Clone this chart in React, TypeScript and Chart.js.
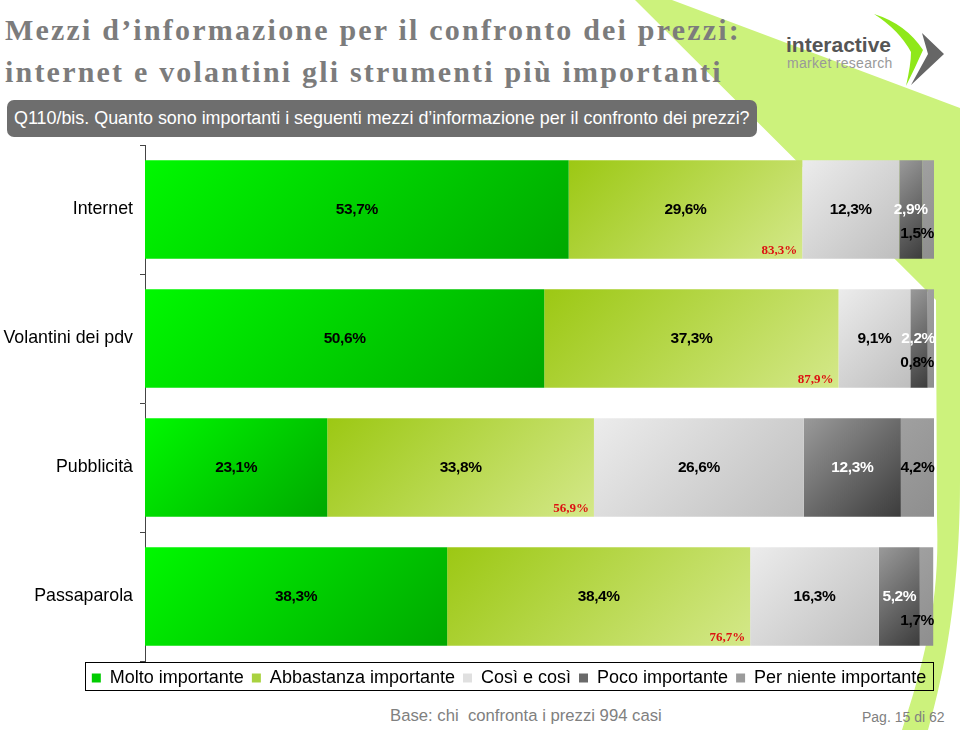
import React, { useEffect, useRef } from 'react';
import { Chart, registerables } from 'chart.js';

Chart.register(...registerables);

const categories = ['Internet', 'Volantini dei pdv', 'Pubblicità', 'Passaparola'];
const seriesNames = ['Molto importante', 'Abbastanza importante', 'Così e così', 'Poco importante', 'Per niente importante'];
const molto = [53.7, 50.6, 23.1, 38.3];
const abbastanza = [29.6, 37.3, 33.8, 38.4];
const cosi = [12.3, 9.1, 26.6, 16.3];
const poco = [2.9, 2.2, 12.3, 5.2];
const perNiente = [1.5, 0.8, 4.2, 1.7];
const topTwoBox = [83.3, 87.9, 56.9, 76.7];

const series = [molto, abbastanza, cosi, poco, perNiente];
const solidColors = ['#00cc00', '#a9d23f', '#e0e0e0', '#6a6a6a', '#9b9b9b'];
const gradientStops = [
  ['#00f800', '#00a800'],
  ['#9cc813', '#d4e889'],
  ['#ececec', '#bebebe'],
  ['#9a9a9a', '#3c3c3c'],
  ['#a0a0a0', '#8e8e8e'],
];
const BAR_PCT = 0.763;

const fmt = (v: number) => v.toFixed(1).replace('.', ',') + '%';

function makeFill(si: number) {
  return (c: any) => {
    const chart = c.chart;
    const area = chart.chartArea;
    if (c.type !== 'data' || !area || !chart.scales.x || !chart.scales.y) return solidColors[si];
    const xs = chart.scales.x;
    const ys = chart.scales.y;
    let start = 0;
    for (let k = 0; k < si; k++) start += series[k][c.dataIndex];
    const end = start + series[si][c.dataIndex];
    const x0 = xs.getPixelForValue(start);
    const x1 = xs.getPixelForValue(end);
    const yc = ys.getPixelForValue(c.dataIndex);
    const band = Math.abs(ys.getPixelForValue(1) - ys.getPixelForValue(0));
    const h = band * BAR_PCT;
    const top = yc - h / 2;
    const t = ((x1 - x0) + h) / 2;
    const g = chart.ctx.createLinearGradient(x0, top, x0 + t, top + t);
    g.addColorStop(0, gradientStops[si][0]);
    g.addColorStop(1, gradientStops[si][1]);
    return g;
  };
}

const segLabels = {
  id: 'segLabels',
  afterDatasetsDraw(chart: any) {
    const ctx = chart.ctx;
    const area = chart.chartArea;
    ctx.save();
    ctx.textBaseline = 'middle';
    ctx.textAlign = 'center';
    try { (ctx as any).letterSpacing = '-0.4px'; } catch (e) { /* ignore */ }
    chart.data.datasets.forEach((ds: any, i: number) => {
      const meta = chart.getDatasetMeta(i);
      meta.data.forEach((bar: any, j: number) => {
        const p = bar.getProps(['x', 'y', 'base', 'height'], true);
        const v = ds.data[j];
        const txt = fmt(v);
        ctx.font = 'bold 15.5px "Liberation Sans", Arial, sans-serif';
        ctx.fillStyle = i === 3 ? '#ffffff' : '#000000';
        const w = ctx.measureText(txt).width;
        const l = Math.min(p.x, p.base);
        const r = Math.max(p.x, p.base);
        let x = (l + r) / 2;
        let y = p.y;
        if (i === 4 && v < 2) {
          x = area.right - w / 2;
          y = p.y + 24;
        } else if (x + w / 2 > area.right + 1) {
          x = area.right + 1 - w / 2;
        }
        ctx.fillText(txt, x, y);
      });
    });
    try { (ctx as any).letterSpacing = '0px'; } catch (e) { /* ignore */ }
    const m1 = chart.getDatasetMeta(1);
    ctx.font = 'bold 13px "Liberation Serif", "Times New Roman", serif';
    ctx.fillStyle = '#dd1111';
    ctx.textAlign = 'right';
    m1.data.forEach((bar: any, j: number) => {
      const p = bar.getProps(['x', 'y', 'height'], true);
      ctx.fillText(fmt(topTwoBox[j]), p.x - 5, p.y + p.height / 2 - 8);
    });
    ctx.restore();
  },
};

const legendBox = {
  id: 'legendBox',
  afterLayout(chart: any) {
    const lg = chart.legend;
    if (!lg) return;
    const shift = 509 - (lg.left + lg.right) / 2;
    lg.left += shift;
    lg.right += shift;
  },
  afterDraw(chart: any) {
    const lg = chart.legend;
    if (!lg || !lg.legendHitBoxes || !lg.legendHitBoxes.length) return;
    const hb = lg.legendHitBoxes;
    const first = hb[0];
    const last = hb[hb.length - 1];
    const ctx = chart.ctx;
    ctx.save();
    ctx.strokeStyle = '#000000';
    ctx.lineWidth = 1;
    const x0 = Math.round(first.left - 7) + 0.5;
    const x1 = Math.round(last.left + last.width + 7) + 0.5;
    const y0 = Math.round(first.top - 7) + 0.5;
    const y1 = Math.round(first.top + first.height + 3) + 0.5;
    ctx.strokeRect(x0, y0, x1 - x0, y1 - y0);
    ctx.restore();
  },
};

function BarChart() {
  const ref = useRef<HTMLCanvasElement | null>(null);
  useEffect(() => {
    if (!ref.current) return;
    const chart = new Chart(ref.current, {
      type: 'bar',
      data: {
        labels: categories,
        datasets: series.map((d, i) => ({
          label: seriesNames[i],
          data: d,
          backgroundColor: makeFill(i),
          borderWidth: 0,
          barPercentage: BAR_PCT,
          categoryPercentage: 1,
        })),
      },
      options: {
        indexAxis: 'y',
        animation: false,
        responsive: true,
        maintainAspectRatio: false,
        layout: { padding: { top: 5, right: 26, bottom: 3, left: 0 } },
        scales: {
          x: { stacked: true, min: 0, max: 100, display: false },
          y: {
            stacked: true,
            grid: { offset: true, drawOnChartArea: false, drawTicks: true, tickLength: 5, color: '#444444' },
            border: { display: true, color: '#444444', width: 1 },
            ticks: { color: '#000000', padding: 7, font: { family: '"Liberation Sans", Arial, sans-serif', size: 17.8 } },
            afterFit: (s: any) => { s.width = 145; s.paddingTop = 0; s.paddingBottom = 0; },
          },
        },
        plugins: {
          tooltip: { enabled: false },
          legend: {
            position: 'bottom',
            labels: {
              boxWidth: 9,
              boxHeight: 9,
              padding: 8,
              color: '#000000',
              font: { family: '"Liberation Sans", Arial, sans-serif', size: 18 },
              generateLabels: () => seriesNames.map((n, i) => ({
                text: n,
                fillStyle: solidColors[i],
                strokeStyle: solidColors[i],
                lineWidth: 0,
                hidden: false,
                datasetIndex: i,
                fontColor: '#000000',
              })),
            },
          },
        },
      },
      plugins: [segLabels, legendBox],
    } as any);
    return () => chart.destroy();
  }, []);
  return <canvas ref={ref} />;
}

export default function App() {
  return (
    <div style={{ position: 'absolute', left: 0, top: 0, width: 960, height: 730, overflow: 'hidden', background: '#ffffff', fontFamily: '"Liberation Sans", Arial, sans-serif' }}>
      <svg width={960} height={730} style={{ position: 'absolute', left: 0, top: 0 }}>
        <path d="M635,0 L672,0 L960,108 L960,480 C960,580 948,660 928,730 L902,730 C925,660 940,600 937,520 L936,300 Z" fill="#ccf27c" />
      </svg>
      <div style={{ position: 'absolute', left: 5, top: 9, fontFamily: '"Liberation Serif", "Times New Roman", serif', fontWeight: 'bold', fontSize: 30, lineHeight: '42px', letterSpacing: '2.2px', color: '#7c7c7c', whiteSpace: 'nowrap' }}>
        <div>Mezzi d’informazione per il confronto dei prezzi:</div>
        <div>internet e volantini gli strumenti più importanti</div>
      </div>
      <svg width={960} height={100} style={{ position: 'absolute', left: 0, top: 0 }}>
        <path d="M874,14 Q906,24 923,50 Q915,68 906,86 Q911,64 911,52 Q899,30 874,14 Z" fill="#8fe81a" />
        <path d="M922,33 L944,54 L911,85 L928,54 Z" fill="#666666" />
      </svg>
      <div style={{ position: 'absolute', left: 786, top: 33, fontSize: 21, fontWeight: 'bold', color: '#555555', lineHeight: '24px', whiteSpace: 'nowrap' }}>interactive</div>
      <div style={{ position: 'absolute', left: 787, top: 55, fontSize: 14, color: '#999999', lineHeight: '16px', letterSpacing: '0.3px', whiteSpace: 'nowrap' }}>market research</div>
      <div style={{ position: 'absolute', left: 7, top: 100, width: 750, height: 37, borderRadius: 7, background: '#6e6e6e', color: '#ffffff', fontSize: 17.9, lineHeight: '37px', paddingLeft: 7, boxSizing: 'border-box', whiteSpace: 'nowrap' }}>
        Q110/bis. Quanto sono importanti i seguenti mezzi d’informazione per il confronto dei prezzi?
      </div>
      <div style={{ position: 'absolute', left: 0, top: 140, width: 960, height: 560 }}>
        <BarChart />
      </div>
      <div style={{ position: 'absolute', left: 390, top: 706, fontSize: 16.7, lineHeight: '20px', color: '#808080', whiteSpace: 'pre' }}>Base: chi  confronta i prezzi 994 casi</div>
      <div style={{ position: 'absolute', left: 862, top: 708, fontSize: 14, lineHeight: '18px', color: '#808080', whiteSpace: 'pre' }}>Pag. 15 di 62</div>
    </div>
  );
}
